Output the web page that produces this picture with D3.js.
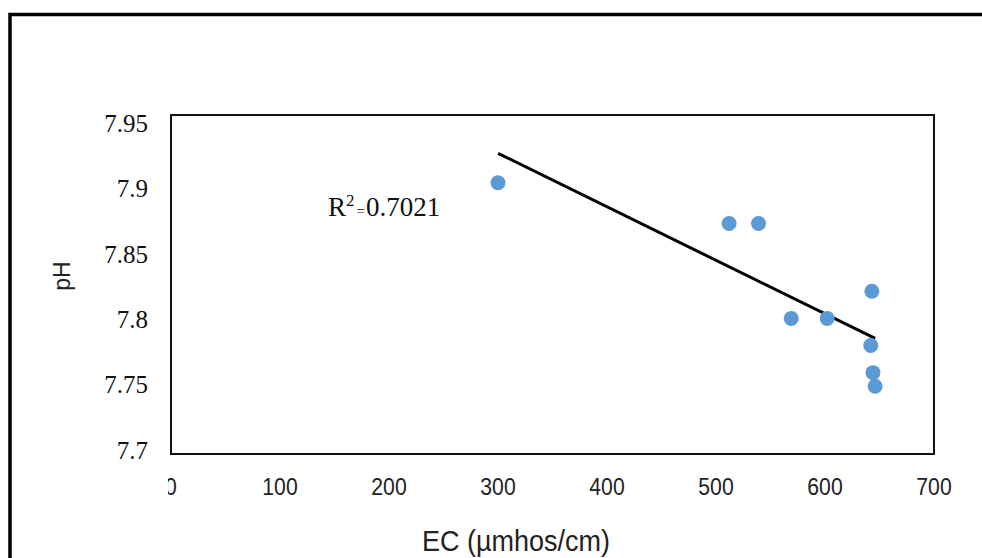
<!DOCTYPE html>
<html>
<head>
<meta charset="utf-8">
<script src="https://cdn.jsdelivr.net/npm/d3@7"></script>
<style>
  body { margin: 0; background: #fff; }
  svg { display: block; }
</style>
</head>
<body>
<svg></svg>
<script>
// EC vs pH samples
var ecValues = [300, 512, 539, 643, 569, 602, 642, 644, 646];
var phValues = [7.90, 7.87, 7.87, 7.82, 7.80, 7.80, 7.78, 7.76, 7.75];
var xTicks = [0, 100, 200, 300, 400, 500, 600, 700];
var yTicks = [7.7, 7.75, 7.8, 7.85, 7.9, 7.95];
var r2Label = "0.7021";

var width = 982, height = 558;
var svg = d3.select("svg").attr("width", width).attr("height", height);

var plot = { left: 171, right: 934, top: 115, bottom: 454 };
var serif = "'Liberation Serif', 'Times New Roman', 'DejaVu Serif', serif";

var x = d3.scaleLinear().domain([0, 700]).range([plot.left, plot.right]);
var y = d3.scaleLinear().domain([7.7, 7.95]).range([plot.bottom, plot.top]);
// tick labels in the original sit a bit squeezed compared to the box
var yLab = d3.scaleLinear().domain([7.7, 7.95]).range([450, 123]);

var points = ecValues.map(function(d, i) { return { ec: d, ph: phValues[i] }; });

// outer frame (runs off the right and bottom edge)
svg.append("rect")
    .attr("x", 10).attr("y", 14.5)
    .attr("width", 1000).attr("height", 600)
    .attr("fill", "none")
    .attr("stroke", "#000")
    .attr("stroke-width", 3.5);

// plot box
svg.append("rect")
    .attr("x", plot.left).attr("y", plot.top)
    .attr("width", plot.right - plot.left)
    .attr("height", plot.bottom - plot.top)
    .attr("fill", "none")
    .attr("stroke", "#111")
    .attr("stroke-width", 2);

// y tick labels (serif)
svg.append("g")
  .selectAll("text")
  .data(yTicks)
  .enter().append("text")
    .attr("x", 148)
    .attr("y", function(d) { return yLab(d); })
    .attr("dy", "0.35em")
    .attr("text-anchor", "end")
    .style("font-family", serif)
    .style("font-size", "25px")
    .attr("fill", "#111")
    .text(function(d) { return d; });

// x tick labels, tall and narrow like the original
svg.append("g")
  .selectAll("text")
  .data(xTicks)
  .enter().append("text")
    .attr("transform", function(d) { return "translate(" + x(d) + ",487) scale(1.06,1.15)"; })
    .attr("dy", "0.35em")
    .attr("text-anchor", "middle")
    .style("font-family", "'Liberation Sans', sans-serif")
    .style("font-size", "20px")
    .attr("fill", "#222")
    .text(function(d) { return d; });

// the "0" label is partly hidden in the original
svg.append("rect")
    .attr("x", x(0) - 16).attr("y", 472)
    .attr("width", 13).attr("height", 30)
    .attr("fill", "#fff");

// axis titles
svg.append("text")
    .attr("transform", "translate(516,541) scale(1.08,1.15)")
    .attr("dy", "0.35em")
    .attr("text-anchor", "middle")
    .style("font-family", "'Liberation Sans', sans-serif")
    .style("font-size", "25px")
    .attr("fill", "#222")
    .text("EC (µmhos/cm)");

svg.append("text")
    .attr("transform", "translate(62,276) rotate(-90)")
    .attr("dy", "0.35em")
    .attr("text-anchor", "middle")
    .style("font-family", "'Liberation Sans', sans-serif")
    .style("font-size", "23px")
    .attr("fill", "#222")
    .text("pH");

// least squares trend line
var mx = d3.mean(ecValues), my = d3.mean(phValues);
var sxy = d3.sum(points, function(d) { return (d.ec - mx) * (d.ph - my); });
var sxx = d3.sum(points, function(d) { return (d.ec - mx) * (d.ec - mx); });
var slope = sxy / sxx, intercept = my - slope * mx;
var ext = d3.extent(ecValues);

svg.append("line")
    .attr("x1", x(ext[0])).attr("y1", y(intercept + slope * ext[0]))
    .attr("x2", x(ext[1])).attr("y2", y(intercept + slope * ext[1]))
    .attr("stroke", "#000")
    .attr("stroke-width", 3);

svg.append("g")
  .selectAll("circle")
  .data(points)
  .enter().append("circle")
    .attr("cx", function(d) { return x(d.ec); })
    .attr("cy", function(d) { return y(d.ph); })
    .attr("r", 7.5)
    .attr("fill", "#5b9bd5");

// R squared label
var r2 = svg.append("text")
    .attr("x", 328).attr("y", 216)
    .style("font-family", serif)
    .attr("fill", "#111");
r2.append("tspan").style("font-size", "27px").text("R");
r2.append("tspan").style("font-size", "17px").attr("dy", -10).text("2");
r2.append("tspan").style("font-size", "15px").attr("dy", 10).attr("dx", 2).text("=");
r2.append("tspan").style("font-size", "27px").attr("dx", 1).text(r2Label);
</script>
</body>
</html>
